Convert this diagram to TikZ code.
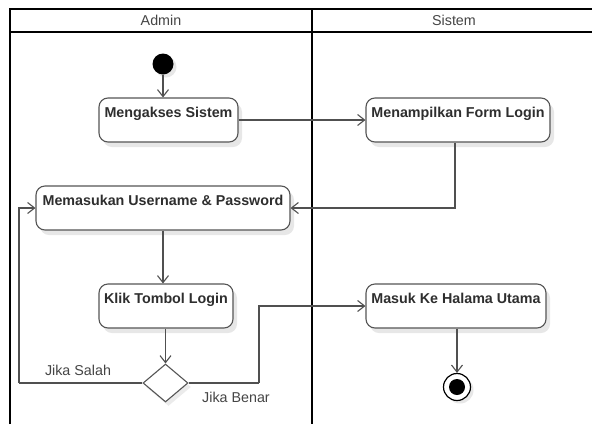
\documentclass[tikz,border=0pt]{standalone}
\usepackage{fontspec}
\setmainfont{Liberation Sans}
\usetikzlibrary{arrows.meta,shapes.geometric,shadows}
\definecolor{boxline}{HTML}{555555}
\definecolor{boxtext}{HTML}{2E2E2E}
\definecolor{conn}{HTML}{505050}
\definecolor{headtext}{HTML}{454545}
\definecolor{shade}{HTML}{D8D8D8}
\tikzset{
  lane/.style={line width=2pt, black},
  actbox/.style={draw=boxline, line width=1.1pt, rounded corners=9pt, fill=white,
    inner xsep=0pt, inner ysep=0pt, text height=19pt, text depth=25pt,
    font=\bfseries\fontsize{14.3}{16}\selectfont, text=boxtext,
    drop shadow={shadow xshift=4pt, shadow yshift=-5pt, fill=shade, opacity=0.6}},
  flow/.style={draw=conn, line width=1.1pt, -{Straight Barb[length=7pt,width=11pt,line width=1.1pt]}},
  plain/.style={draw=conn, line width=1.1pt},
  headlbl/.style={font=\fontsize{14.3}{16}\selectfont, text=headtext},
  guard/.style={font=\fontsize{14.3}{16}\selectfont, text=headtext},
  startdot/.style={circle, fill=black, minimum size=21pt, inner sep=0pt,
    drop shadow={shadow xshift=3pt, shadow yshift=-3pt, fill=shade, opacity=0.6}},
  decision/.style={diamond, draw=boxline, line width=1.1pt, fill=white, minimum width=45pt,
    minimum height=38pt, inner sep=0pt,
    drop shadow={shadow xshift=3pt, shadow yshift=-4pt, fill=shade, opacity=0.5}},
  endring/.style={circle, draw=black, line width=1.2pt, fill=white, minimum size=27pt, inner sep=0pt,
    drop shadow={shadow xshift=3pt, shadow yshift=-3pt, fill=shade, opacity=0.6}},
  enddot/.style={circle, fill=black, minimum size=16pt, inner sep=0pt}
}
\begin{document}
\begin{tikzpicture}[x=1pt,y=-1pt]
\useasboundingbox (0,0) rectangle (592,424);
\fill[white] (0,0) rectangle (592,424);
% swimlane frame
\draw[lane] (10,424) -- (10,9) -- (592,9);
\draw[lane] (10,32) -- (592,32);
\draw[lane] (312,9) -- (312,424);
\node[headlbl] (hAdmin) at (161,20) {Admin};
\node[headlbl] (hSistem) at (454,20) {Sistem};
% nodes
\node[startdot] (init) at (163,64) {};
\node[actbox, minimum width=139pt] (A) at (168.5,120) {Mengakses Sistem};
\node[actbox, minimum width=184pt] (B) at (458,120) {Menampilkan Form Login};
\node[actbox, minimum width=254pt] (C) at (163,208) {Memasukan Username \& Password};
\node[actbox, minimum width=134pt] (D) at (166,306) {Klik Tombol Login};
\node[actbox, minimum width=180pt] (E) at (456,306) {Masuk Ke Halama Utama};
\node[decision] (dec) at (165.5,383) {};
\node[endring] (fin) at (457,387) {};
\node[enddot] (finc) at (fin) {};
\coordinate (lp) at (19,383);
\coordinate (rp) at (259,383);
% guards
\node[guard] (gS) at (78,370) {Jika Salah};
\node[guard] (gB) at (236,397) {Jika Benar};
% connectors
\draw[flow] (init) -- (init |- A.north);
\draw[flow] (A.east) -- (B.west);
\draw[flow] (B.south -| 455,0) |- (C.east);
\draw[flow] (C.south -| 163,0) -- (163,0 |- D.north);
\draw[flow] (D.south -| dec) -- (dec.north);
\draw[plain] (dec.west) -- (lp);
\draw[flow] (lp) |- (C.west);
\draw[plain] (dec.east) -- (rp);
\draw[flow] (rp) |- (E.west);
\draw[flow] (E.south -| fin) -- (fin.north);
\end{tikzpicture}
\end{document}
